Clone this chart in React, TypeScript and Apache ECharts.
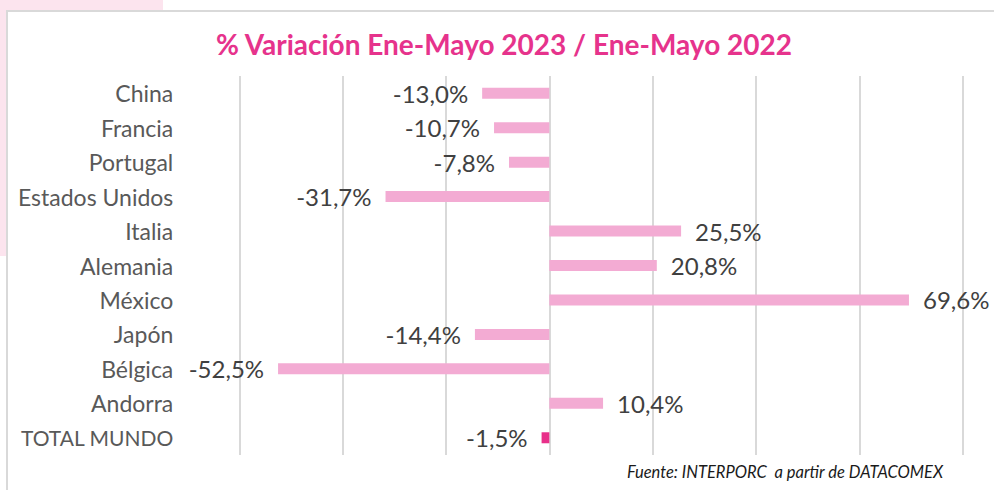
import React, { useEffect, useRef } from "react";
import * as echarts from "echarts";

const categories = [
  "China",
  "Francia",
  "Portugal",
  "Estados Unidos",
  "Italia",
  "Alemania",
  "México",
  "Japón",
  "Bélgica",
  "Andorra",
  "TOTAL MUNDO",
];
const variation = [-13.0, -10.7, -7.8, -31.7, 25.5, 20.8, 69.6, -14.4, -52.5, 10.4, -1.5];
const totalLabel = "TOTAL MUNDO";

const TITLE = "% Variación Ene-Mayo 2023 / Ene-Mayo 2022";
const SOURCE = "Fuente: INTERPORC  a partir de DATACOMEX";

const BAR_COLOR = "#f3abd3";
const TOTAL_COLOR = "#e8308a";
const FONT = "Lato, 'Noto Sans', sans-serif";

const fmt = (v: number) => v.toFixed(1).replace(".", ",") + "%";

export default function App() {
  const ref = useRef<HTMLDivElement>(null);

  useEffect(() => {
    if (!ref.current) return;
    const chart = echarts.init(ref.current, undefined, { renderer: "svg" });

    const data = variation.map((v, i) => ({
      value: v,
      itemStyle: { color: categories[i] === totalLabel ? TOTAL_COLOR : BAR_COLOR },
      label: { position: v < 0 ? "left" : "right" },
    }));

    chart.setOption({
      animation: false,
      backgroundColor: "#ffffff",
      graphic: [
        { type: "rect", z: -10, shape: { x: 0, y: 0, width: 163, height: 11 }, style: { fill: "#fce4ee" } },
        { type: "rect", z: -10, shape: { x: 0, y: 0, width: 7, height: 256 }, style: { fill: "#fce4ee" } },
        {
          type: "rect",
          z: -9,
          shape: { x: 7, y: 11, width: 1010, height: 500 },
          style: { fill: "#ffffff", stroke: "#d9d9d9", lineWidth: 2 },
        },
        {
          type: "text",
          x: 504,
          y: 44,
          style: {
            text: TITLE,
            fill: "#e6338c",
            font: `bold 28px ${FONT}`,
            align: "center",
            verticalAlign: "middle",
          },
        },
        {
          type: "text",
          x: 943,
          y: 472,
          style: {
            text: SOURCE,
            fill: "#1a1a1a",
            font: `italic 16.5px ${FONT}`,
            align: "right",
            verticalAlign: "middle",
          },
        },
      ],
      grid: { left: 239.3, right: 31.3, top: 76, bottom: 35, containLabel: false },
      xAxis: {
        type: "value",
        min: -60,
        max: 80,
        interval: 20,
        axisLabel: { show: false },
        axisLine: { show: false },
        axisTick: { show: false },
        splitLine: { show: true, lineStyle: { color: "#d9d9d9", width: 2 } },
      },
      yAxis: {
        type: "category",
        inverse: true,
        data: categories,
        axisLine: { show: false, onZero: false },
        axisTick: { show: false },
        axisLabel: {
          margin: 66,
          color: "#595959",
          fontSize: 23,
          fontFamily: FONT,
          formatter: (v: string) => (v === totalLabel ? `{total|${v}}` : v),
          rich: {
            total: { fontSize: 21, fontFamily: FONT, color: "#595959" },
          },
        },
      },
      series: [
        {
          type: "bar",
          data,
          barWidth: 11,
          label: {
            show: true,
            distance: 14,
            color: "#404040",
            fontSize: 24,
            fontFamily: FONT,
            formatter: (p: any) => fmt(p.value),
          },
        },
      ],
    });

    return () => chart.dispose();
  }, []);

  return (
    <div
      ref={ref}
      style={{ position: "fixed", left: 0, top: 0, width: 994, height: 490 }}
    />
  );
}
